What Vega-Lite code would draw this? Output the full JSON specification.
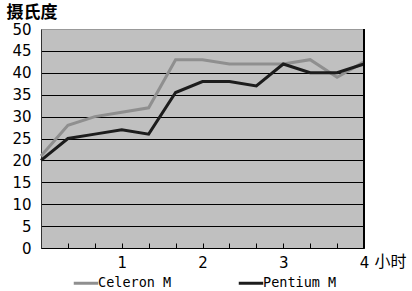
{
  "$schema": "https://vega.github.io/schema/vega-lite/v6.json",
  "width": 323,
  "height": 219,
  "autosize": {"type": "none"},
  "padding": {"left": 41, "top": 29, "right": 48, "bottom": 43},
  "background": "white",
  "config": {
    "view": {"fill": "#c0c0c0", "stroke": null},
    "axis": {"labelFont": "DejaVu Sans", "labelFontSize": 15, "labelColor": "#000", "titleColor": "#000", "labelOverlap": false}
  },
  "data": {
    "values": [
      {"minutes": 0, "cpu": "Celeron M", "temp": 21},
      {"minutes": 20, "cpu": "Celeron M", "temp": 28},
      {"minutes": 40, "cpu": "Celeron M", "temp": 30},
      {"minutes": 60, "cpu": "Celeron M", "temp": 31},
      {"minutes": 80, "cpu": "Celeron M", "temp": 32},
      {"minutes": 100, "cpu": "Celeron M", "temp": 43},
      {"minutes": 120, "cpu": "Celeron M", "temp": 43},
      {"minutes": 140, "cpu": "Celeron M", "temp": 42},
      {"minutes": 160, "cpu": "Celeron M", "temp": 42},
      {"minutes": 180, "cpu": "Celeron M", "temp": 42},
      {"minutes": 200, "cpu": "Celeron M", "temp": 43},
      {"minutes": 220, "cpu": "Celeron M", "temp": 39},
      {"minutes": 240, "cpu": "Celeron M", "temp": 42.5},
      {"minutes": 0, "cpu": "Pentium M", "temp": 20},
      {"minutes": 20, "cpu": "Pentium M", "temp": 25},
      {"minutes": 40, "cpu": "Pentium M", "temp": 26},
      {"minutes": 60, "cpu": "Pentium M", "temp": 27},
      {"minutes": 80, "cpu": "Pentium M", "temp": 26},
      {"minutes": 100, "cpu": "Pentium M", "temp": 35.5},
      {"minutes": 120, "cpu": "Pentium M", "temp": 38},
      {"minutes": 140, "cpu": "Pentium M", "temp": 38},
      {"minutes": 160, "cpu": "Pentium M", "temp": 37},
      {"minutes": 180, "cpu": "Pentium M", "temp": 42},
      {"minutes": 200, "cpu": "Pentium M", "temp": 40},
      {"minutes": 220, "cpu": "Pentium M", "temp": 40},
      {"minutes": 240, "cpu": "Pentium M", "temp": 42}
    ]
  },
  "layer": [
    {
      "mark": {"type": "line", "strokeWidth": 3, "strokeJoin": "miter"},
      "encoding": {
        "x": {
          "field": "minutes", "type": "quantitative",
          "scale": {"domain": [0, 240], "nice": false, "zero": false},
          "axis": {
            "values": [0, 20, 40, 60, 80, 100, 120, 140, 160, 180, 200, 220, 240],
            "labelExpr": "datum.value == 60 ? '1' : datum.value == 120 ? '2' : datum.value == 180 ? '3' : datum.value == 240 ? '4' : ''",
            "labelOverlap": false,
            "labelFlush": false,
            "labelBound": false,
            "grid": false,
            "domainColor": "#000",
            "tickColor": "#000",
            "tickSize": -5,
            "labelPadding": 12,
            "labelBaseline": "top",
            "title": "小时",
            "titleFont": "Noto Sans CJK SC",
            "titleFontSize": 16,
            "titleFontWeight": "normal",
            "titleAlign": "left",
            "titleBaseline": "middle",
            "titleAnchor": null,
            "titleX": 333,
            "titleY": 13
          }
        },
        "y": {
          "field": "temp", "type": "quantitative",
          "scale": {"domain": [0, 50], "nice": false},
          "axis": {
            "values": [0, 5, 10, 15, 20, 25, 30, 35, 40, 45, 50],
            "labelOverlap": false,
            "labelFlush": false,
            "grid": true,
            "gridColor": {"condition": {"test": "datum.value == 50", "value": "#999999"}, "value": "#000"},
            "gridWidth": 1,
            "domainColor": "#333333",
            "ticks": false,
            "labelPadding": 10,
            "title": "摄氏度",
            "titleFont": "Noto Sans CJK SC",
            "titleFontSize": 17,
            "titleFontWeight": "bold",
            "titleAngle": 0,
            "titleAlign": "left",
            "titleBaseline": "middle",
            "titleAnchor": null,
            "titleX": -35,
            "titleY": -16.5
          }
        },
        "color": {
          "field": "cpu", "type": "nominal",
          "scale": {"domain": ["Celeron M", "Pentium M"], "range": ["#8f8f8f", "#1c1c1c"]},
          "legend": {
            "title": null,
            "orient": "none",
            "direction": "horizontal",
            "legendX": 31,
            "legendY": 240,
            "padding": 0,
            "symbolType": "stroke",
            "symbolStrokeWidth": 3,
            "symbolSize": 600,
            "symbolOffset": 0,
            "labelFont": "DejaVu Sans Mono",
            "labelFontSize": 13.5,
            "labelColor": "#000",
            "labelOffset": -2,
            "columnPadding": 60
          }
        }
      }
    },
    {
      "mark": {"type": "rule", "color": "#000", "strokeWidth": 1},
      "encoding": {
        "x": {
          "datum": 240, "type": "quantitative",
          "axis": {
            "values": [0, 20, 40, 60, 80, 100, 120, 140, 160, 180, 200, 220, 240],
            "labelExpr": "datum.value == 60 ? '1' : datum.value == 120 ? '2' : datum.value == 180 ? '3' : datum.value == 240 ? '4' : ''",
            "labelOverlap": false,
            "labelFlush": false,
            "labelBound": false,
            "grid": false,
            "domainColor": "#000",
            "tickColor": "#000",
            "tickSize": -5,
            "labelPadding": 12,
            "labelBaseline": "top",
            "title": "小时",
            "titleFont": "Noto Sans CJK SC",
            "titleFontSize": 16,
            "titleFontWeight": "normal",
            "titleAlign": "left",
            "titleBaseline": "middle",
            "titleAnchor": null,
            "titleX": 333,
            "titleY": 13
          }
        }
      }
    }
  ]
}
